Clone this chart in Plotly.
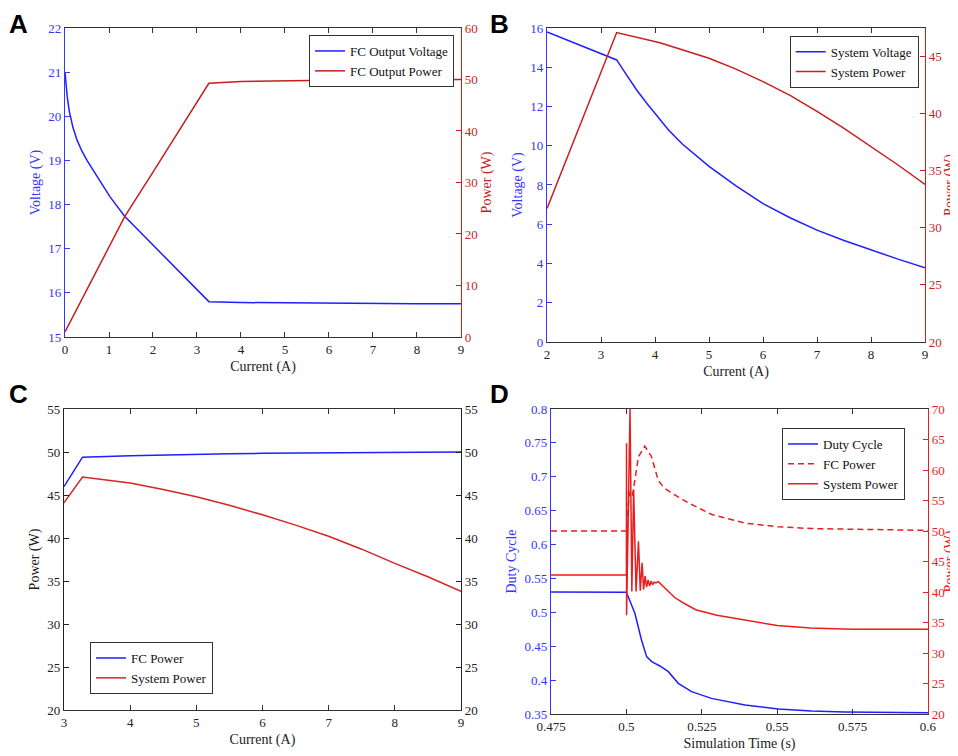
import plotly.graph_objects as go

# ---- data ----
# Panel A: fuel cell output vs current
a_current = [0, 0.02, 0.05, 0.1, 0.18, 0.27, 0.38, 0.5, 0.72, 1.02, 1.36, 2.0, 2.6, 3.27, 4, 5, 6, 7, 8, 9]
a_voltage = [21.0, 20.75, 20.45, 20.1, 19.75, 19.47, 19.22, 19.0, 18.64, 18.18, 17.73, 17.09, 16.47, 15.8,
             15.78, 15.77, 15.765, 15.76, 15.755, 15.75]
a_power_current = [0, 0.5, 1.0, 1.36, 2.0, 2.5, 3.0, 3.27, 4, 5, 6, 7, 8, 9]
a_power = [1.0, 9.2, 17.4, 23.4, 32.0, 38.8, 45.6, 49.25, 49.6, 49.75, 49.85, 49.9, 49.95, 50.0]

# Panel B: system output vs current
b_current = [2, 2.6, 3.29, 3.45, 3.66, 3.85, 4.09, 4.25, 4.5, 4.75, 5, 5.5, 6, 6.5, 7, 7.5, 8, 8.5, 9]
b_voltage = [15.8, 15.15, 14.37, 13.7, 12.84, 12.15, 11.31, 10.8, 10.1, 9.5, 8.95, 7.95, 7.05, 6.33,
             5.7, 5.17, 4.68, 4.22, 3.78]
b_power_current = [2, 3.29, 4.09, 4.5, 5, 5.5, 6, 6.5, 7, 7.5, 8, 8.5, 9]
b_power = [31.7, 47.1, 46.2, 45.6, 44.85, 43.9, 42.8, 41.6, 40.2, 38.7, 37.1, 35.5, 33.8]

# Panel C: FC power and system power vs current
c_current = [3, 3.28, 4, 4.5, 5, 5.5, 6, 6.5, 7, 7.5, 8, 8.5, 9]
c_fc_power = [45.97, 49.4, 49.55, 49.65, 49.75, 49.8, 49.85, 49.87, 49.9, 49.92, 49.95, 49.97, 50.0]
c_sys_power = [44.1, 47.1, 46.4, 45.65, 44.8, 43.8, 42.7, 41.5, 40.2, 38.7, 37.05, 35.5, 33.8]

# Panel D: transient response
d_duty_time = [0.475, 0.5, 0.5028, 0.505, 0.5067, 0.5084, 0.5111, 0.5139, 0.5172, 0.5216, 0.5282,
               0.5393, 0.5503, 0.5614, 0.5724, 0.6]
d_duty = [0.53, 0.5297, 0.4987, 0.4593, 0.4347, 0.4273, 0.4209, 0.4125, 0.3953, 0.383, 0.3731,
          0.3633, 0.3574, 0.3544, 0.353, 0.352]
d_fc_time = [0.475, 0.5, 0.5003, 0.5012, 0.502, 0.5028, 0.504, 0.5061, 0.5083, 0.5105, 0.5124, 0.5151,
             0.5206, 0.5283, 0.5393, 0.5503, 0.5614, 0.6]
d_fc_power = [50.0, 50.0, 53.0, 56.5, 55.8, 58.5, 62.2, 63.9, 62.2, 58.4, 57.1, 56.2,
              54.6, 52.7, 51.3, 50.7, 50.4, 50.1]
d_sys_time = [0.475, 0.5, 0.50003, 0.50006, 0.5012, 0.5018, 0.5024, 0.5032, 0.504, 0.5046, 0.5052,
              0.5057, 0.5062, 0.5067, 0.5072, 0.5077, 0.5082, 0.5087, 0.5092, 0.5098, 0.5106,
              0.512, 0.5134, 0.516, 0.5189, 0.523, 0.53, 0.54, 0.55, 0.561, 0.575, 0.6]
d_sys_power = [42.8, 42.8, 64.4, 36.2, 70.0, 40.1, 56.8, 40.1, 48.3, 40.2, 44.8,
               40.4, 42.6, 40.8, 42.0, 41.0, 41.8, 41.2, 41.6, 41.5, 41.7,
               41.0, 40.3, 39.1, 38.2, 37.1, 36.2, 35.3, 34.5, 34.1, 33.9, 33.9]

d_xticks = [0.475, 0.5, 0.525, 0.55, 0.575, 0.6]
d_xtick_text = ["0.475", "0.5", "0.525", "0.55", "0.575", "0.6"]
d_yticks = [0.35, 0.4, 0.45, 0.5, 0.55, 0.6, 0.65, 0.7, 0.75, 0.8]
d_ytick_text = ["0.35", "0.4", "0.45", "0.5", "0.55", "0.6", "0.65", "0.7", "0.75", "0.8"]

BLUE = "#1f1fff"
BLUE_TXT = "#3535ff"
RED_DARK = "#c81e1e"
RED = "#e81e1e"
RED_C = "#d42525"
FRAME = "#333333"
FONT = "Liberation Serif"

fig = go.Figure()

# A
fig.add_trace(go.Scatter(x=a_current, y=a_voltage, mode="lines", name="FC Output Voltage",
                         line=dict(color=BLUE, width=1.5), xaxis="x", yaxis="y", legend="legend"))
fig.add_trace(go.Scatter(x=a_power_current, y=a_power, mode="lines", name="FC Output Power",
                         line=dict(color=RED_DARK, width=1.5), xaxis="x", yaxis="y2", legend="legend"))
# B
fig.add_trace(go.Scatter(x=b_current, y=b_voltage, mode="lines", name="System Voltage",
                         line=dict(color=BLUE, width=1.5), xaxis="x2", yaxis="y3", legend="legend2"))
fig.add_trace(go.Scatter(x=b_power_current, y=b_power, mode="lines", name="System Power",
                         line=dict(color=RED_DARK, width=1.5), xaxis="x2", yaxis="y4", legend="legend2"))
# C
fig.add_trace(go.Scatter(x=c_current, y=c_fc_power, mode="lines", name="FC Power",
                         line=dict(color=BLUE, width=1.5), xaxis="x3", yaxis="y5", legend="legend3"))
fig.add_trace(go.Scatter(x=c_current, y=c_sys_power, mode="lines", name="System Power",
                         line=dict(color=RED_C, width=1.5), xaxis="x3", yaxis="y6", legend="legend3"))
# D
fig.add_trace(go.Scatter(x=d_duty_time, y=d_duty, mode="lines", name="Duty Cycle",
                         line=dict(color=BLUE, width=1.5), xaxis="x4", yaxis="y7", legend="legend4"))
fig.add_trace(go.Scatter(x=d_fc_time, y=d_fc_power, mode="lines", name="FC Power",
                         line=dict(color=RED, width=1.5, dash="6px,4px"), xaxis="x4", yaxis="y8", legend="legend4"))
fig.add_trace(go.Scatter(x=d_sys_time, y=d_sys_power, mode="lines", name="System Power",
                         line=dict(color=RED, width=1.5), xaxis="x4", yaxis="y8", legend="legend4"))


def xax(domain, anchor, rng, dtick, title, **kw):
    return dict(domain=domain, anchor=anchor, range=rng, dtick=dtick, showgrid=False, zeroline=False,
                automargin=False, showline=True, linecolor=FRAME, linewidth=1.2, mirror="ticks",
                ticks="inside", ticklen=5, tickcolor=FRAME, tickfont=dict(family=FONT, size=13, color="#222"),
                title=dict(text=title, font=dict(family=FONT, size=14, color="#222"), standoff=5), **kw)


def yax(domain, anchor, rng, color, title, side="left", overlaying=None, **kw):
    d = dict(domain=domain, anchor=anchor, range=rng, showgrid=False, zeroline=False, side=side,
             automargin=False, showline=True, linecolor=color, linewidth=1.2, ticks="inside", ticklen=5,
             tickcolor=color, tickfont=dict(family=FONT, size=13, color=color),
             title=dict(text=title, font=dict(family=FONT, size=14, color=color), standoff=4), **kw)
    if overlaying:
        d["overlaying"] = overlaying
    return d


leg = dict(font=dict(family=FONT, size=13, color="#111"), bgcolor="white", bordercolor=FRAME,
           borderwidth=1, tracegroupgap=0)

# the page body has an 8px margin, so the figure is 950x748 and sits at (8, 8)
fig.update_layout(
    template="none",
    width=950, height=748,
    margin=dict(l=0, r=0, t=0, b=0),
    paper_bgcolor="white", plot_bgcolor="white",
    xaxis=xax([0.06, 0.4768], "y", [0, 9], 1, "Current (A)"),
    yaxis=yax([0.5602, 0.9733], "x", [15, 22], BLUE_TXT, "Voltage (V)", dtick=1),
    yaxis2=yax([0.5602, 0.9733], "x", [0, 60], RED_DARK, "Power (W)", side="right", overlaying="y", dtick=10),
    xaxis2=xax([0.5674, 0.9653], "y3", [2, 9], 1, "Current (A)"),
    yaxis3=yax([0.5535, 0.9733], "x2", [0, 16], BLUE_TXT, "Voltage (V)", dtick=2),
    yaxis4=yax([0.5535, 0.9733], "x2", [20, 47.5], RED_DARK, "Power (W)", side="right", overlaying="y3",
               tickvals=[20, 25, 30, 35, 40, 45]),
    xaxis3=xax([0.0589, 0.4768], "y5", [3, 9], 1, "Current (A)"),
    yaxis5=yax([0.0615, 0.4639], "x3", [20, 55], "#222", "Power (W)", dtick=5),
    yaxis6=yax([0.0615, 0.4639], "x3", [20, 55], "#222", "", side="right", overlaying="y5", dtick=5),
    xaxis4=xax([0.5716, 0.9684], "y7", [0.475, 0.6], None, "Simulation Time (s)",
               tickvals=d_xticks, ticktext=d_xtick_text),
    yaxis7=yax([0.0561, 0.4639], "x4", [0.35, 0.8], BLUE_TXT, "Duty Cycle",
               tickvals=d_yticks, ticktext=d_ytick_text),
    yaxis8=yax([0.0561, 0.4639], "x4", [20, 70], RED, "Power (W)", side="right", overlaying="y7", dtick=5),
    legend=dict(leg, x=0.4695, y=0.9639, xanchor="right", yanchor="top"),
    legend2=dict(leg, x=0.9586, y=0.963, xanchor="right", yanchor="top"),
    legend3=dict(leg, x=0.0863, y=0.1524, xanchor="left", yanchor="top"),
    legend4=dict(leg, x=0.9442, y=0.4385, xanchor="right", yanchor="top"),
    showlegend=True,
)

# panel letters
for letter, x, y in [("A", 0.0, 1.0), ("B", 0.506, 1.0), ("C", 0.0, 0.506), ("D", 0.506, 0.506)]:
    fig.add_annotation(text="<b>%s</b>" % letter, x=x, y=y, xref="paper", yref="paper",
                       xanchor="left", yanchor="top", showarrow=False, borderpad=0,
                       font=dict(family="Liberation Sans", size=26, color="black"))

fig.write_html("out.html")
